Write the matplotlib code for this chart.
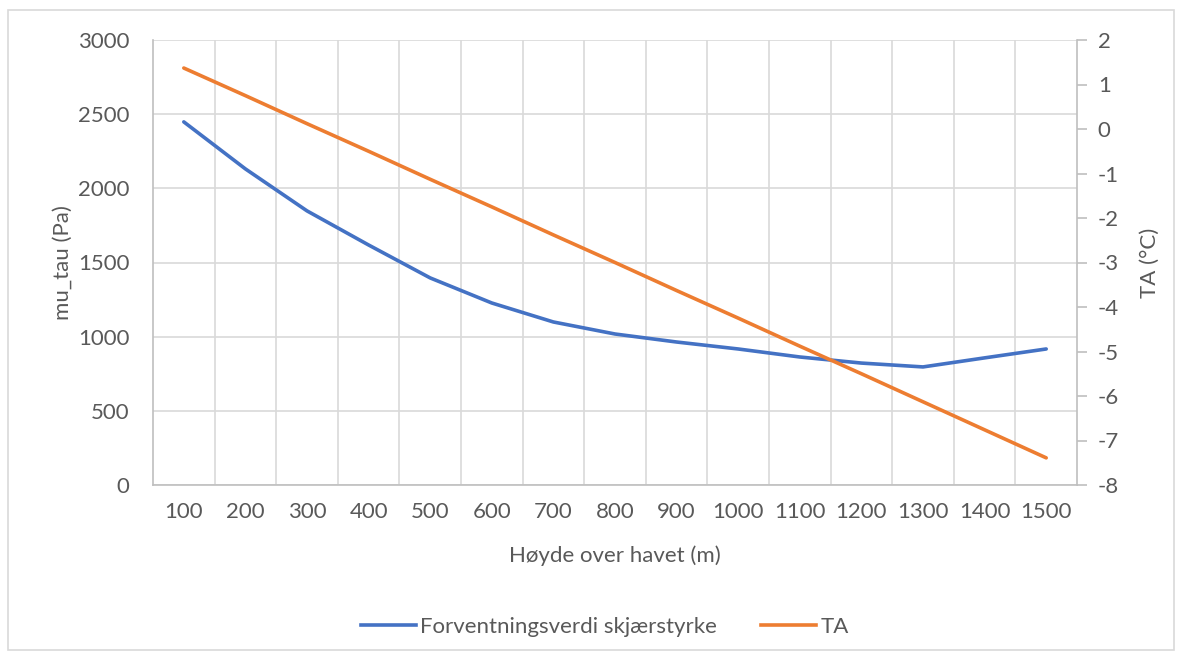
import matplotlib
matplotlib.use("Agg")
import matplotlib.pyplot as plt
from matplotlib.lines import Line2D
from matplotlib.patches import Rectangle
import numpy as np

plt.rcParams['font.family'] = ['Lato', 'DejaVu Sans']
plt.rcParams['axes.unicode_minus'] = False

categories = ["100", "200", "300", "400", "500", "600", "700", "800",
              "900", "1000", "1100", "1200", "1300", "1400", "1500"]
mu_tau = [2448, 2131, 1848, 1618, 1396, 1227, 1099, 1018, 964, 917,
          863, 822, 796, 857, 917]
ta = [1.37, 0.75, 0.12, -0.50, -1.13, -1.75, -2.38, -3.00, -3.63, -4.25,
      -4.88, -5.50, -6.13, -6.76, -7.39]

left_ticks = [0, 500, 1000, 1500, 2000, 2500, 3000]
right_ticks = [-8, -7, -6, -5, -4, -3, -2, -1, 0, 1, 2]

W, H = 1182, 658
fig = plt.figure(figsize=(W / 100, H / 100), dpi=100)
fig.patches.append(Rectangle((8 / W, 8 / H), (1174 - 8) / W, (648 - 8) / H,
                             transform=fig.transFigure, fill=False,
                             edgecolor="#d9d9d9", linewidth=1.2))

ax = fig.add_axes([153 / W, (H - 485) / H, (1077 - 153) / W, (485 - 40) / H])
ax2 = ax.twinx()

txt = "#595959"
grid = "#d9d9d9"
blue = "#4472c4"
orange = "#ed7d31"

x = np.arange(len(categories))
ax.plot(x, mu_tau, color=blue, lw=2.6, solid_capstyle="round", zorder=3)
ax2.plot(x, ta, color=orange, lw=2.6, solid_capstyle="round", zorder=3)

ax.set_xlim(-0.5, len(categories) - 0.5)
ax.set_ylim(0, 3000)
ax2.set_ylim(-8, 2)
ax.set_yticks(left_ticks)
ax2.set_yticks(right_ticks)
ax.set_xticks(x)
ax.set_xticklabels(categories)
ax.set_xticks(np.arange(0.5, len(categories) - 1, 1), minor=True)

ax.grid(axis="y", which="major", color=grid, lw=1.2)
ax.grid(axis="x", which="minor", color=grid, lw=1.2)
ax.grid(axis="x", which="major", visible=False)
ax.set_axisbelow(True)

for a in (ax, ax2):
    for s in a.spines.values():
        s.set_visible(False)
ax.spines["left"].set_visible(True)
ax.spines["left"].set_color("#bfbfbf")
ax.spines["bottom"].set_visible(True)
ax.spines["bottom"].set_color("#bfbfbf")
ax2.spines["right"].set_visible(True)
ax2.spines["right"].set_color("#bfbfbf")
for s in ("left", "bottom", "right"):
    ax.spines[s].set_linewidth(1.2)
    ax2.spines[s].set_linewidth(1.2)

fs = 16
ax.tick_params(axis="y", which="both", length=0, labelsize=fs, labelcolor=txt, pad=17)
ax.tick_params(axis="x", which="both", length=0, labelsize=fs, labelcolor=txt, pad=12)
ax2.tick_params(axis="y", length=7, width=1.2, color="#bfbfbf", labelsize=fs,
                labelcolor=txt, pad=8)

ax.set_ylabel("mu_tau (Pa)", fontsize=fs, color=txt, labelpad=4)
ax2.set_ylabel("TA (°C)", fontsize=fs, color=txt, rotation=90, labelpad=15)
ax.set_xlabel("Høyde over havet (m)", fontsize=fs, color=txt, labelpad=17)

handles = [Line2D([], [], color=blue, lw=2.6), Line2D([], [], color=orange, lw=2.6)]
fig.legend(handles, ["Forventningsverdi skjærstyrke", "TA"], loc="center",
           bbox_to_anchor=(605 / W, 1 - 627 / H), ncol=2, frameon=False,
           fontsize=fs, labelcolor=txt, handlelength=2.45, handletextpad=0.2,
           columnspacing=2.0)

fig.savefig("out.png", dpi=100)
